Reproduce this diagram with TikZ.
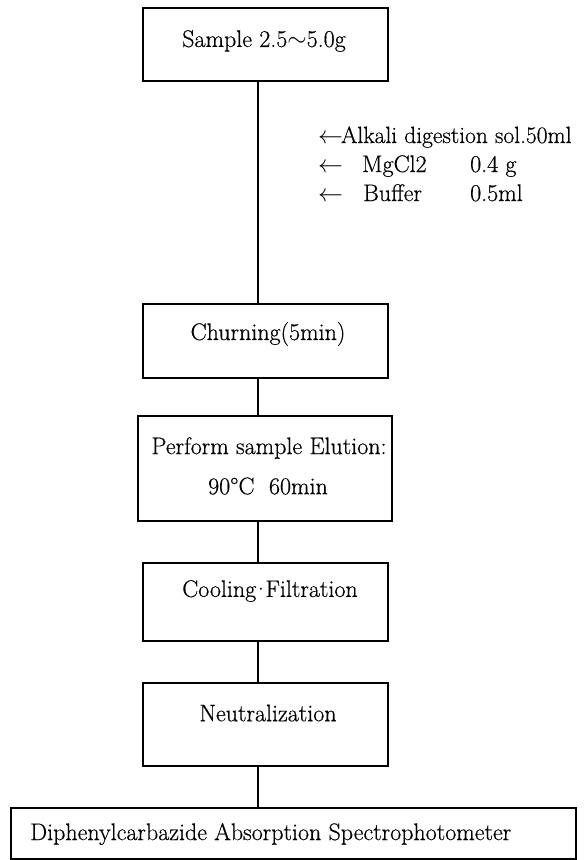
\documentclass[tikz,border=0pt]{standalone}
\usepackage{fontspec}
\newfontfamily\boxfont{Latin Modern Roman}[FakeBold=0.5]
\begin{document}
\begin{tikzpicture}[x=1pt,y=-1pt,
  stepbox/.style={draw=black,line width=1.7pt,inner sep=0pt,anchor=north west},
  link/.style={draw=black,line width=1.1pt},
  txt/.style={font=\boxfont\fontsize{24}{28}\selectfont,inner sep=0pt}]
\useasboundingbox (0,0) rectangle (585,860);
% process boxes
\node[stepbox,minimum width=245pt,minimum height=73pt] (sample) at (142,7) {};
\node[stepbox,minimum width=245pt,minimum height=74pt] (churn) at (142,303) {};
\node[stepbox,minimum width=254pt,minimum height=105pt] (elute) at (137,415) {};
\node[stepbox,minimum width=245pt,minimum height=78pt] (cool) at (142,562) {};
\node[stepbox,minimum width=245pt,minimum height=83pt] (neut) at (142,682) {};
\node[stepbox,minimum width=565pt,minimum height=51pt] (detect) at (10,807) {};
% box labels
\node[txt] (sampleT) at (264,41) {Sample 2.5$\sim$5.0g};
\node[txt] (churnT) at (268,334) {Churning(5min)};
\node[txt] (eluteT1) at (269,448) {Perform sample Elution:};
\node[txt] (eluteT2) at (268,486) {90\textdegree C\ \ 60min};
\node[txt] (coolT) at (270,591) {Cooling\kern-4pt\textperiodcentered\kern-4pt Filtration};
\node[txt] (neutT) at (268,713) {Neutralization};
\node[txt,anchor=west] (detectT) at (30,834) {Diphenylcarbazide Absorption Spectrophotometer};
% reagents added
\node[txt,anchor=base west,font=\boxfont\fontsize{23.5}{28}\selectfont] (addA) at (318,143) {$\leftarrow$\kern-2pt Alkali digestion sol.50ml};
\node[txt,anchor=base west] (addB1) at (318,172) {$\leftarrow$};
\node[txt,anchor=base west] (addB2) at (362,172) {MgCl2};
\node[txt,anchor=base west] (addB3) at (470,172) {0.4 g};
\node[txt,anchor=base west] (addC1) at (318,201) {$\leftarrow$};
\node[txt,anchor=base west] (addC2) at (363,201) {Buffer};
\node[txt,anchor=base west] (addC3) at (470,201) {0.5ml};
% connectors
\coordinate (axis) at (258,0);
\draw[link] (sample.south -| axis) -- (churn.north -| axis);
\draw[link] (churn.south -| axis) -- (elute.north -| axis);
\draw[link] (elute.south -| axis) -- (cool.north -| axis);
\draw[link] (cool.south -| axis) -- (neut.north -| axis);
\draw[link] (neut.south -| axis) -- (detect.north -| axis);
\end{tikzpicture}
\end{document}
